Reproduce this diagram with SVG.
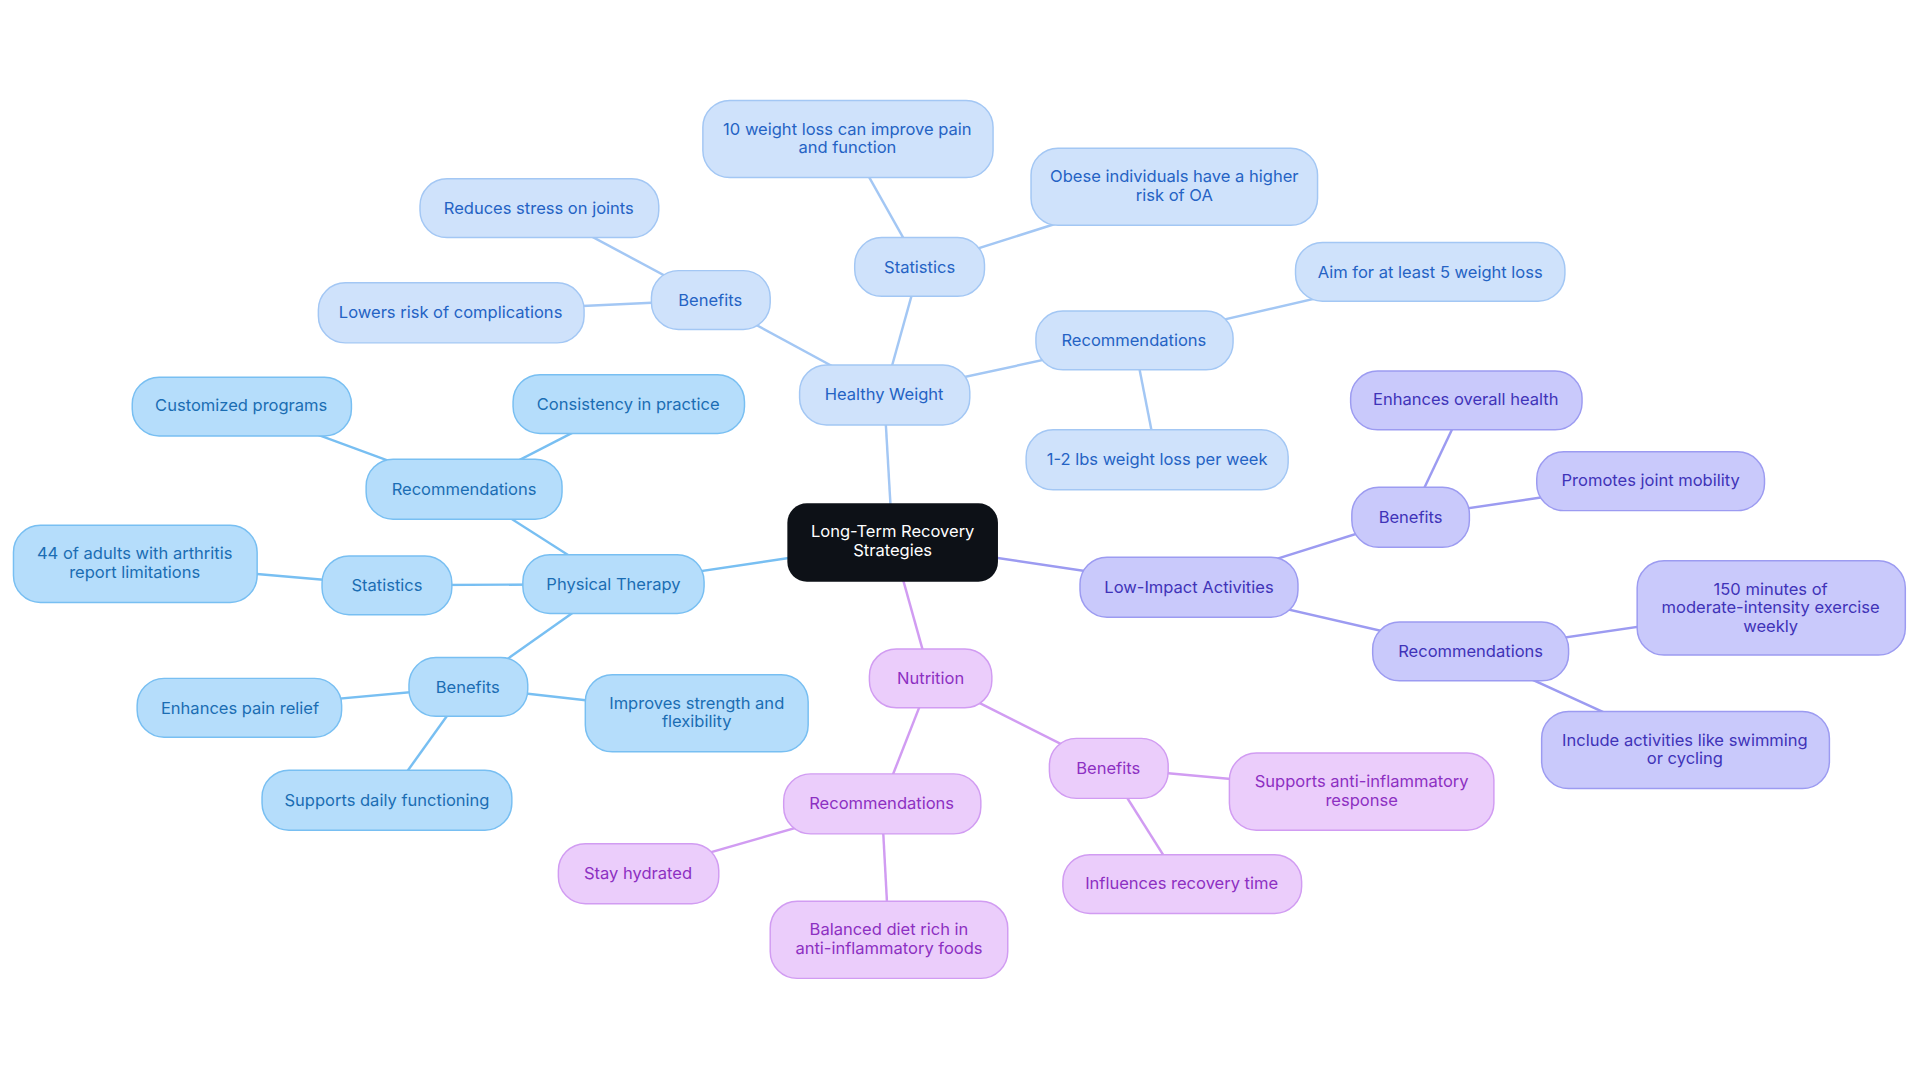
<svg xmlns="http://www.w3.org/2000/svg" width="1920" height="1083" viewBox="0 0 1920 1083">
<style>
text{font-family:Inter,"Noto Sans",sans-serif;font-size:13.5px;text-anchor:middle;dominant-baseline:central}
.hw rect{fill:#cfe2fb;stroke:#a3c7f4}.hw text{fill:#2563c4}
.pt rect{fill:#b5ddfb;stroke:#78bff2}.pt text{fill:#1b6db3}
.li rect{fill:#c9c9fb;stroke:#9c9bf1}.li text{fill:#4033b8}
.nu rect{fill:#ebcdfb;stroke:#d19cf2}.nu text{fill:#8d30c2}
rect{stroke-width:1.2}
.e line{stroke-width:2}
</style>
<rect width="1920" height="1083" fill="#fff"/>
<g transform="scale(1.2245)">
<g id="edges" class="e">
<g stroke="#a3c7f4">
<line x1="729" y1="443" x2="722" y2="322"/><line x1="722" y1="322" x2="751" y2="218"/><line x1="751" y1="218" x2="692" y2="113"/><line x1="751" y1="218" x2="959" y2="152"/><line x1="722" y1="322" x2="926" y2="278"/><line x1="926" y1="278" x2="1168" y2="222"/><line x1="926" y1="278" x2="945" y2="375"/><line x1="722" y1="322" x2="580" y2="245"/><line x1="580" y1="245" x2="440" y2="170"/><line x1="580" y1="245" x2="368" y2="255"/>
</g>
<g stroke="#78bff2">
<line x1="729" y1="443" x2="501" y2="477"/><line x1="501" y1="477" x2="379" y2="399"/><line x1="379" y1="399" x2="197" y2="332"/><line x1="379" y1="399" x2="513" y2="330"/><line x1="501" y1="477" x2="316" y2="478"/><line x1="316" y1="478" x2="110" y2="460"/><line x1="501" y1="477" x2="382" y2="561"/><line x1="382" y1="561" x2="195" y2="578"/><line x1="382" y1="561" x2="569" y2="582"/><line x1="382" y1="561" x2="316" y2="653"/>
</g>
<g stroke="#9c9bf1">
<line x1="729" y1="443" x2="971" y2="479"/><line x1="971" y1="479" x2="1152" y2="422"/><line x1="1152" y1="422" x2="1197" y2="327"/><line x1="1152" y1="422" x2="1348" y2="393"/><line x1="971" y1="479" x2="1201" y2="532"/><line x1="1201" y1="532" x2="1446" y2="496"/><line x1="1201" y1="532" x2="1376" y2="612"/>
</g>
<g stroke="#d19cf2">
<line x1="729" y1="443" x2="760" y2="554"/><line x1="760" y1="554" x2="905" y2="627"/><line x1="905" y1="627" x2="1112" y2="646"/><line x1="905" y1="627" x2="965" y2="722"/><line x1="760" y1="554" x2="720" y2="656"/><line x1="720" y1="656" x2="521" y2="713"/><line x1="720" y1="656" x2="726" y2="767"/>
</g>
</g>
<g id="center"><rect x="643" y="411" width="172" height="64" rx="16" fill="#0d1117"/><text x="729" y="434" fill="#fff">Long-Term Recovery</text><text x="729" y="449" fill="#fff">Strategies</text></g>
<g id="hw" class="hw"><rect x="653" y="298" width="139" height="49" rx="22"/><text x="722" y="322">Healthy Weight</text></g>
<g id="hw-stat" class="hw"><rect x="698" y="194" width="106" height="48" rx="22"/><text x="751" y="218">Statistics</text></g>
<g id="hw-stat1" class="hw"><rect x="574" y="82" width="237" height="63" rx="22"/><text x="692" y="105">10 weight loss can improve pain</text><text x="692" y="120">and function</text></g>
<g id="hw-stat2" class="hw"><rect x="842" y="121" width="234" height="63" rx="22"/><text x="959" y="144">Obese individuals have a higher</text><text x="959" y="159">risk of OA</text></g>
<g id="hw-rec" class="hw"><rect x="846" y="254" width="161" height="48" rx="22"/><text x="926" y="278">Recommendations</text></g>
<g id="hw-rec1" class="hw"><rect x="1058" y="198" width="220" height="48" rx="22"/><text x="1168" y="222">Aim for at least 5 weight loss</text></g>
<g id="hw-rec2" class="hw"><rect x="838" y="351" width="214" height="49" rx="22"/><text x="945" y="375">1-2 lbs weight loss per week</text></g>
<g id="hw-ben" class="hw"><rect x="532" y="221" width="97" height="48" rx="22"/><text x="580" y="245">Benefits</text></g>
<g id="hw-ben1" class="hw"><rect x="343" y="146" width="195" height="48" rx="22"/><text x="440" y="170">Reduces stress on joints</text></g>
<g id="hw-ben2" class="hw"><rect x="260" y="231" width="217" height="49" rx="22"/><text x="368" y="255">Lowers risk of complications</text></g>
<g id="pt" class="pt"><rect x="427" y="453" width="148" height="48" rx="22"/><text x="501" y="477">Physical Therapy</text></g>
<g id="pt-rec" class="pt"><rect x="299" y="375" width="160" height="49" rx="22"/><text x="379" y="399">Recommendations</text></g>
<g id="pt-rec1" class="pt"><rect x="108" y="308" width="179" height="48" rx="22"/><text x="197" y="331">Customized programs</text></g>
<g id="pt-rec2" class="pt"><rect x="419" y="306" width="189" height="48" rx="22"/><text x="513" y="330">Consistency in practice</text></g>
<g id="pt-stat" class="pt"><rect x="263" y="454" width="106" height="48" rx="22"/><text x="316" y="478">Statistics</text></g>
<g id="pt-stat1" class="pt"><rect x="11" y="429" width="199" height="63" rx="22"/><text x="110" y="452">44 of adults with arthritis</text><text x="110" y="467">report limitations</text></g>
<g id="pt-ben" class="pt"><rect x="334" y="537" width="97" height="48" rx="22"/><text x="382" y="561">Benefits</text></g>
<g id="pt-ben1" class="pt"><rect x="112" y="554" width="167" height="48" rx="22"/><text x="196" y="578">Enhances pain relief</text></g>
<g id="pt-ben2" class="pt"><rect x="478" y="551" width="182" height="63" rx="22"/><text x="569" y="574">Improves strength and</text><text x="569" y="589">flexibility</text></g>
<g id="pt-ben3" class="pt"><rect x="214" y="629" width="204" height="49" rx="22"/><text x="316" y="653">Supports daily functioning</text></g>
<g id="li" class="li"><rect x="882" y="455" width="178" height="49" rx="22"/><text x="971" y="479">Low-Impact Activities</text></g>
<g id="li-ben" class="li"><rect x="1104" y="398" width="96" height="49" rx="22"/><text x="1152" y="422">Benefits</text></g>
<g id="li-ben1" class="li"><rect x="1103" y="303" width="189" height="48" rx="22"/><text x="1197" y="326">Enhances overall health</text></g>
<g id="li-ben2" class="li"><rect x="1255" y="369" width="186" height="48" rx="22"/><text x="1348" y="392">Promotes joint mobility</text></g>
<g id="li-rec" class="li"><rect x="1121" y="508" width="160" height="48" rx="22"/><text x="1201" y="532">Recommendations</text></g>
<g id="li-rec1" class="li"><rect x="1337" y="458" width="219" height="77" rx="22"/><text x="1446" y="481">150 minutes of</text><text x="1446" y="496">moderate-intensity exercise</text><text x="1446" y="511">weekly</text></g>
<g id="li-rec2" class="li"><rect x="1259" y="581" width="235" height="63" rx="22"/><text x="1376" y="604">Include activities like swimming</text><text x="1376" y="619">or cycling</text></g>
<g id="nu" class="nu"><rect x="710" y="530" width="100" height="48" rx="22"/><text x="760" y="554">Nutrition</text></g>
<g id="nu-ben" class="nu"><rect x="857" y="603" width="97" height="49" rx="22"/><text x="905" y="627">Benefits</text></g>
<g id="nu-ben1" class="nu"><rect x="1004" y="615" width="216" height="63" rx="22"/><text x="1112" y="638">Supports anti-inflammatory</text><text x="1112" y="653">response</text></g>
<g id="nu-ben2" class="nu"><rect x="868" y="698" width="195" height="48" rx="22"/><text x="965" y="721">Influences recovery time</text></g>
<g id="nu-rec" class="nu"><rect x="640" y="632" width="161" height="49" rx="22"/><text x="720" y="656">Recommendations</text></g>
<g id="nu-rec1" class="nu"><rect x="456" y="689" width="131" height="49" rx="22"/><text x="521" y="713">Stay hydrated</text></g>
<g id="nu-rec2" class="nu"><rect x="629" y="736" width="194" height="63" rx="22"/><text x="726" y="759">Balanced diet rich in</text><text x="726" y="774">anti-inflammatory foods</text></g>
</g>
</svg>
